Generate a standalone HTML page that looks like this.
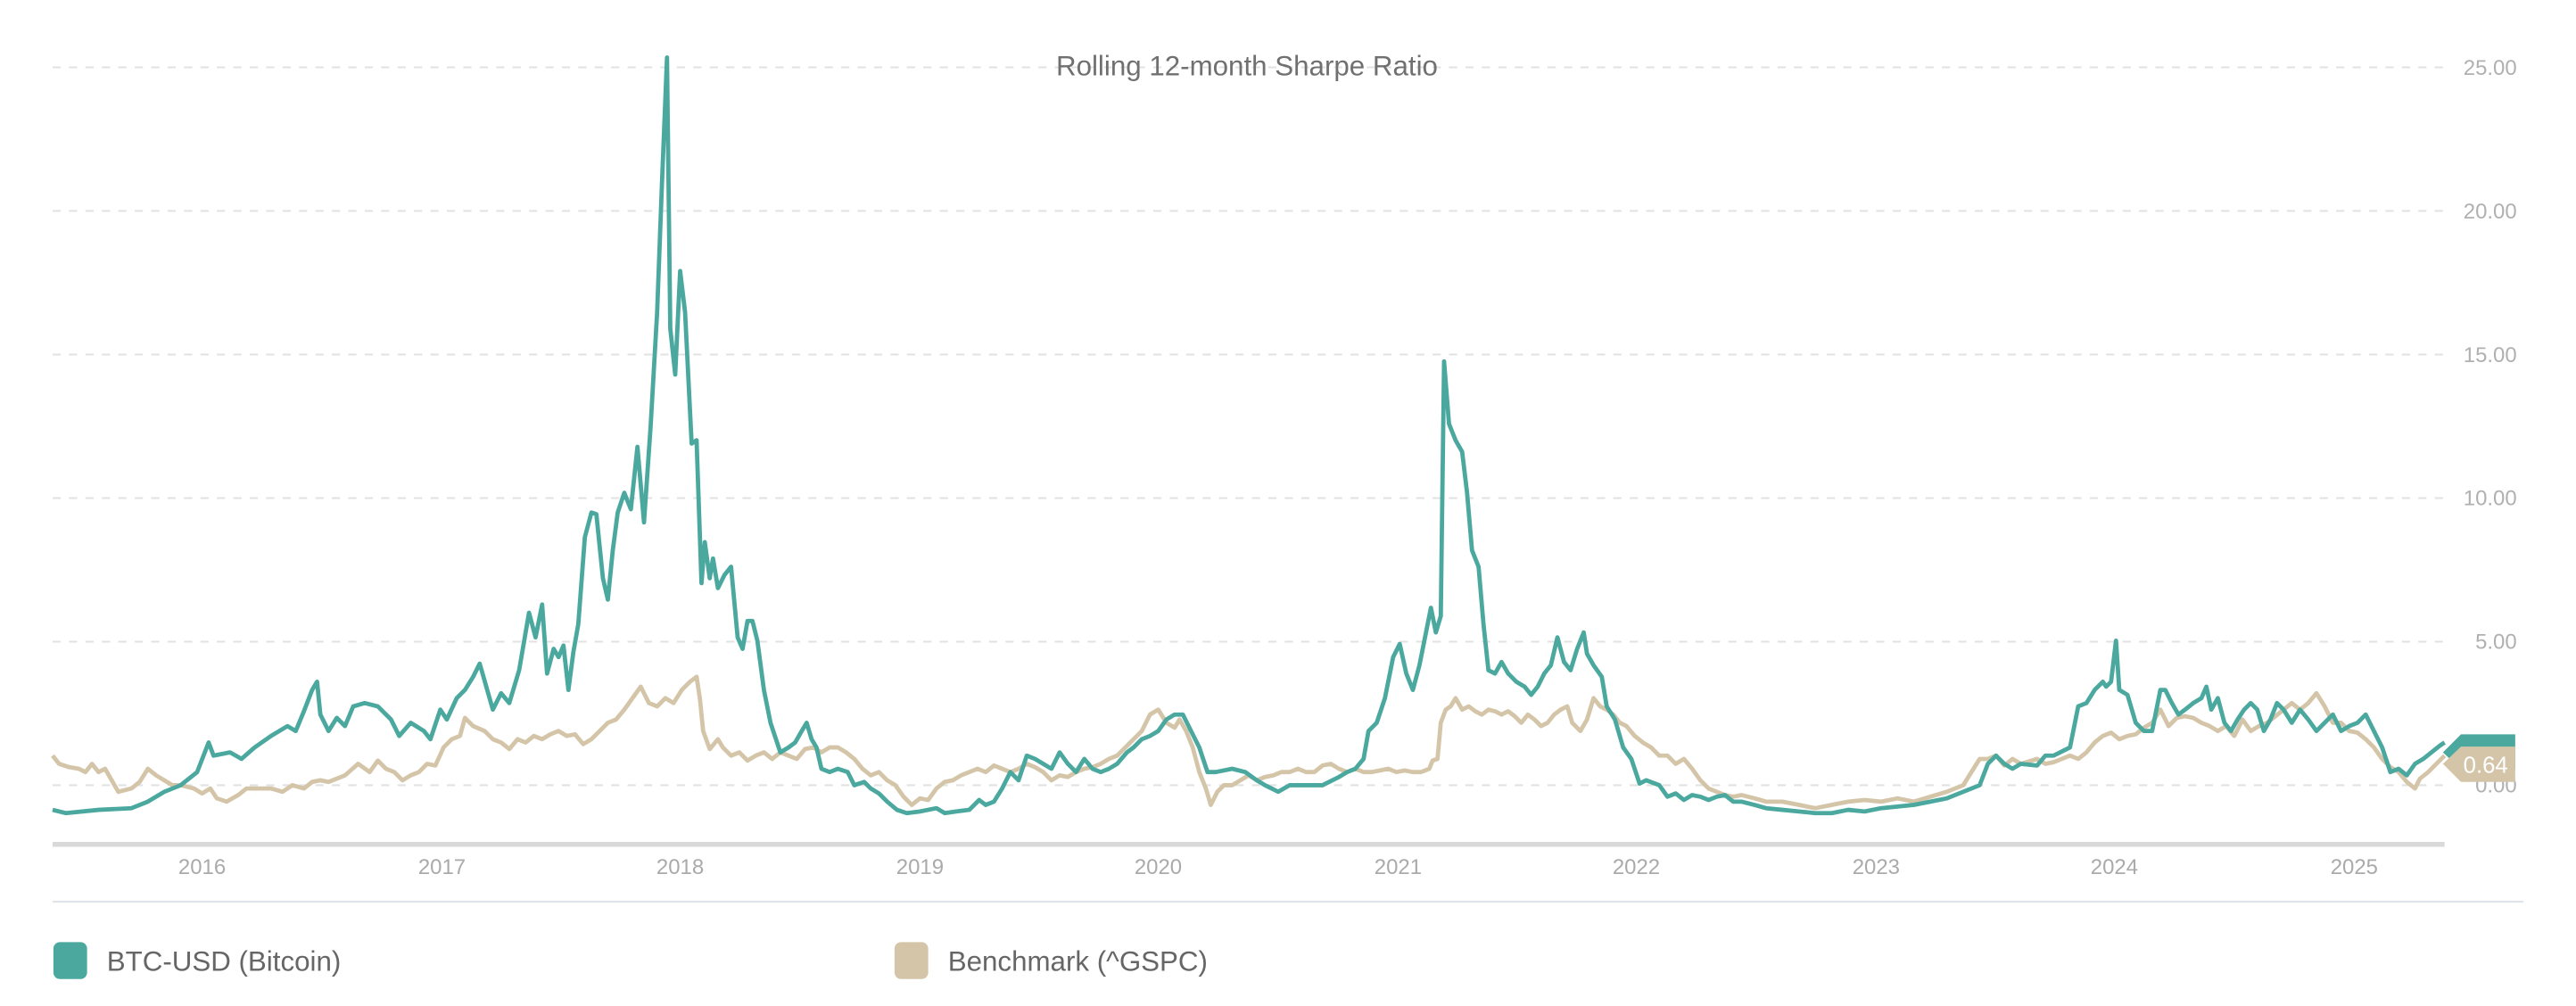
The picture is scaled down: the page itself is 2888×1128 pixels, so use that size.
<!DOCTYPE html>
<html><head><meta charset="utf-8"><style>
html,body{margin:0;padding:0;background:#fff;}
svg{display:block;font-family:"Liberation Sans",sans-serif;}
</style></head><body>
<svg width="2888" height="1128" viewBox="0 0 1568 612.4" xmlns="http://www.w3.org/2000/svg">
<g stroke="#e2e2e2" stroke-width="1.1" stroke-dasharray="5 5">
<line x1="32" y1="41" x2="1488" y2="41"/>
<line x1="32" y1="128.4" x2="1488" y2="128.4"/>
<line x1="32" y1="215.8" x2="1488" y2="215.8"/>
<line x1="32" y1="303.2" x2="1488" y2="303.2"/>
<line x1="32" y1="390.6" x2="1488" y2="390.6"/>
<line x1="32" y1="478" x2="1488" y2="478"/>
</g>
<g fill="#b0b0b0" font-size="13" text-anchor="end">
<text x="1532" y="45.5">25.00</text>
<text x="1532" y="132.9">20.00</text>
<text x="1532" y="220.3">15.00</text>
<text x="1532" y="307.7">10.00</text>
<text x="1532" y="395.1">5.00</text>
<text x="1532" y="482.5">0.00</text>
</g>
<text x="759" y="46" font-size="17" fill="#707070" text-anchor="middle">Rolling 12-month Sharpe Ratio</text>
<polyline fill="none" stroke="#d4c5a9" stroke-width="2.6" stroke-linejoin="round" points="32,460 36,465 42,467 48,468 52,470 56,465 60,470 64,468 68,475 72,482 80,480 85,476 90,468 95,472 100,475 105,478 110,478 118,480 123,483 128,480 132,486 138,488 145,484 150,480 158,480 165,480 172,482 178,478 185,480 190,476 195,475 200,476 210,472 218,465 225,470 230,463 235,468 240,470 245,475 250,472 255,470 260,465 265,466 270,455 275,450 280,448 283,437 288,442 295,445 300,450 305,452 310,456 315,450 320,452 325,448 330,450 335,447 340,445 345,448 350,447 355,453 360,450 365,445 370,440 375,438 380,432 385,425 390,418 395,428 400,430 405,425 410,428 415,420 420,415 424,412 426,425 428,445 432,456 437,450 440,455 445,460 450,458 455,463 460,460 465,458 470,462 475,458 480,460 485,462 490,456 495,455 500,458 505,455 510,455 515,458 520,462 525,468 530,472 535,470 540,475 545,478 550,485 555,490 560,486 565,487 570,480 575,476 580,475 585,472 590,470 595,468 600,470 605,466 610,468 615,470 620,468 625,465 630,467 635,470 640,475 645,472 650,473 655,470 660,468 665,467 670,465 675,462 680,460 685,455 690,450 695,445 700,435 705,432 710,440 715,443 718,438 722,445 726,455 730,470 734,480 737,490 741,482 745,478 750,478 755,475 760,472 765,475 770,473 775,472 780,470 785,470 790,468 795,470 800,470 805,466 810,465 815,468 820,470 825,468 830,470 835,470 840,469 845,468 850,470 855,469 860,470 865,470 870,468 872,463 875,462 877,440 880,432 883,430 886,425 890,432 894,430 898,433 902,435 906,432 910,433 914,435 918,433 922,436 926,440 930,435 934,438 938,442 942,440 946,435 950,432 954,430 957,440 962,445 966,438 970,425 974,430 978,432 982,435 986,440 990,442 995,448 1000,452 1005,455 1010,460 1015,460 1020,465 1025,462 1030,468 1035,475 1040,480 1045,482 1050,484 1055,485 1060,484 1068,486 1075,488 1085,488 1095,490 1105,492 1115,490 1125,488 1135,487 1145,488 1155,486 1165,488 1175,485 1185,482 1195,478 1200,470 1205,462 1210,462 1215,460 1220,466 1225,462 1230,465 1240,462 1245,465 1250,464 1255,462 1260,460 1265,462 1270,458 1275,452 1280,448 1285,446 1290,450 1295,448 1300,447 1305,443 1310,440 1315,432 1320,442 1325,437 1330,436 1335,437 1340,440 1345,442 1350,445 1355,442 1360,448 1365,438 1370,445 1375,442 1380,440 1385,436 1390,432 1395,428 1400,432 1405,428 1410,422 1415,430 1420,440 1425,440 1430,445 1435,446 1440,450 1445,455 1450,462 1455,467 1460,470 1465,476 1470,480 1473,474 1478,470 1482,466 1486,462 1488,460"/>
<polyline fill="none" stroke="#4aa89e" stroke-width="2.6" stroke-linejoin="round" points="32,493 40,495 60,493 80,492 90,488 100,482 110,478 120,470 127,452 130,460 140,458 147,462 155,455 165,448 175,442 180,445 185,433 190,420 193,415 195,435 200,445 205,437 210,442 215,430 222,428 230,430 238,438 243,448 250,440 258,445 262,450 268,432 272,438 278,425 283,420 288,412 292,404 296,418 300,432 305,422 310,428 316,408 322,373 326,388 330,368 333,410 337,395 340,400 343,393 346,420 349,397 352,380 356,327 360,312 363,313 367,352 370,365 373,335 376,312 380,300 384,310 388,272 392,318 396,260 400,190 403,110 406,35 408,200 411,228 414,165 417,190 421,270 424,268 427,355 429,330 432,352 434,340 437,358 441,350 445,345 449,388 452,395 455,378 458,378 461,390 465,420 469,440 475,458 480,455 484,452 488,445 491,440 494,450 497,455 500,468 505,470 510,468 516,470 520,478 526,476 530,480 535,483 540,488 546,493 552,495 560,494 570,492 575,495 582,494 590,493 596,487 600,490 605,488 610,480 615,470 620,475 625,460 630,462 635,465 640,468 645,458 650,465 655,470 660,462 665,468 670,470 675,468 680,465 686,458 690,455 695,450 700,448 705,445 710,438 715,435 720,435 725,445 730,455 735,470 740,470 750,468 758,470 765,475 770,478 778,482 785,478 795,478 805,478 815,473 820,470 825,468 830,462 833,445 838,440 843,425 848,400 852,392 856,410 860,420 864,405 868,385 871,370 874,385 877,375 879,220 882,258 886,268 890,275 893,300 896,335 900,345 903,380 906,408 910,410 914,403 918,410 923,415 928,418 932,423 936,418 940,410 944,405 948,388 952,403 956,408 960,395 964,385 966,398 970,405 975,412 978,430 983,438 988,455 993,462 998,477 1002,475 1010,478 1015,485 1020,483 1025,487 1030,484 1035,485 1040,487 1045,485 1050,484 1055,488 1060,488 1068,490 1075,492 1085,493 1095,494 1105,495 1115,495 1125,493 1135,494 1145,492 1155,491 1165,490 1175,488 1185,486 1195,482 1205,478 1210,465 1215,460 1220,465 1225,468 1230,465 1240,466 1245,460 1250,460 1260,455 1265,430 1270,428 1275,420 1280,415 1282,418 1285,415 1288,390 1290,420 1295,423 1300,440 1305,445 1310,445 1315,420 1318,420 1322,428 1326,435 1330,432 1335,428 1340,425 1343,418 1346,432 1350,425 1354,440 1358,445 1362,438 1366,432 1370,428 1374,432 1378,445 1382,438 1386,428 1390,432 1395,440 1400,432 1405,438 1410,445 1415,440 1420,435 1425,445 1430,442 1435,440 1440,435 1445,445 1450,455 1455,470 1460,468 1465,472 1470,465 1475,462 1480,458 1485,454 1488,452"/>
<path d="M1487,458 L1498,447 L1531,447 L1531,468.5 L1498,468.5 Z" fill="#4aa89e"/>
<path d="M1487,465 L1498,454.5 L1531,454.5 L1531,476 L1498,476 Z" fill="#d4c5a9"/>
<text x="1513" y="470.5" font-size="14" fill="#fff" text-anchor="middle">0.64</text>
<rect x="32" y="512.5" width="1456" height="3" fill="#d9d9d9"/>
<g fill="#aaaaaa" font-size="13" text-anchor="middle">
<text x="123" y="532">2016</text><text x="269" y="532">2017</text><text x="414" y="532">2018</text>
<text x="560" y="532">2019</text><text x="705" y="532">2020</text><text x="851" y="532">2021</text>
<text x="996" y="532">2022</text><text x="1142" y="532">2023</text><text x="1287" y="532">2024</text>
<text x="1433" y="532">2025</text>
</g>
<rect x="32" y="548.3" width="1504" height="1.2" fill="#dfe3ea"/>
<rect x="32.5" y="573.5" width="20.5" height="22.5" rx="4" fill="#4aa89e"/>
<text x="65" y="591" font-size="17" fill="#666">BTC-USD (Bitcoin)</text>
<rect x="544.5" y="573.5" width="20.5" height="22.5" rx="4" fill="#d4c5a9"/>
<text x="577" y="591" font-size="17" fill="#666">Benchmark (^GSPC)</text>
</svg>
</body></html>
